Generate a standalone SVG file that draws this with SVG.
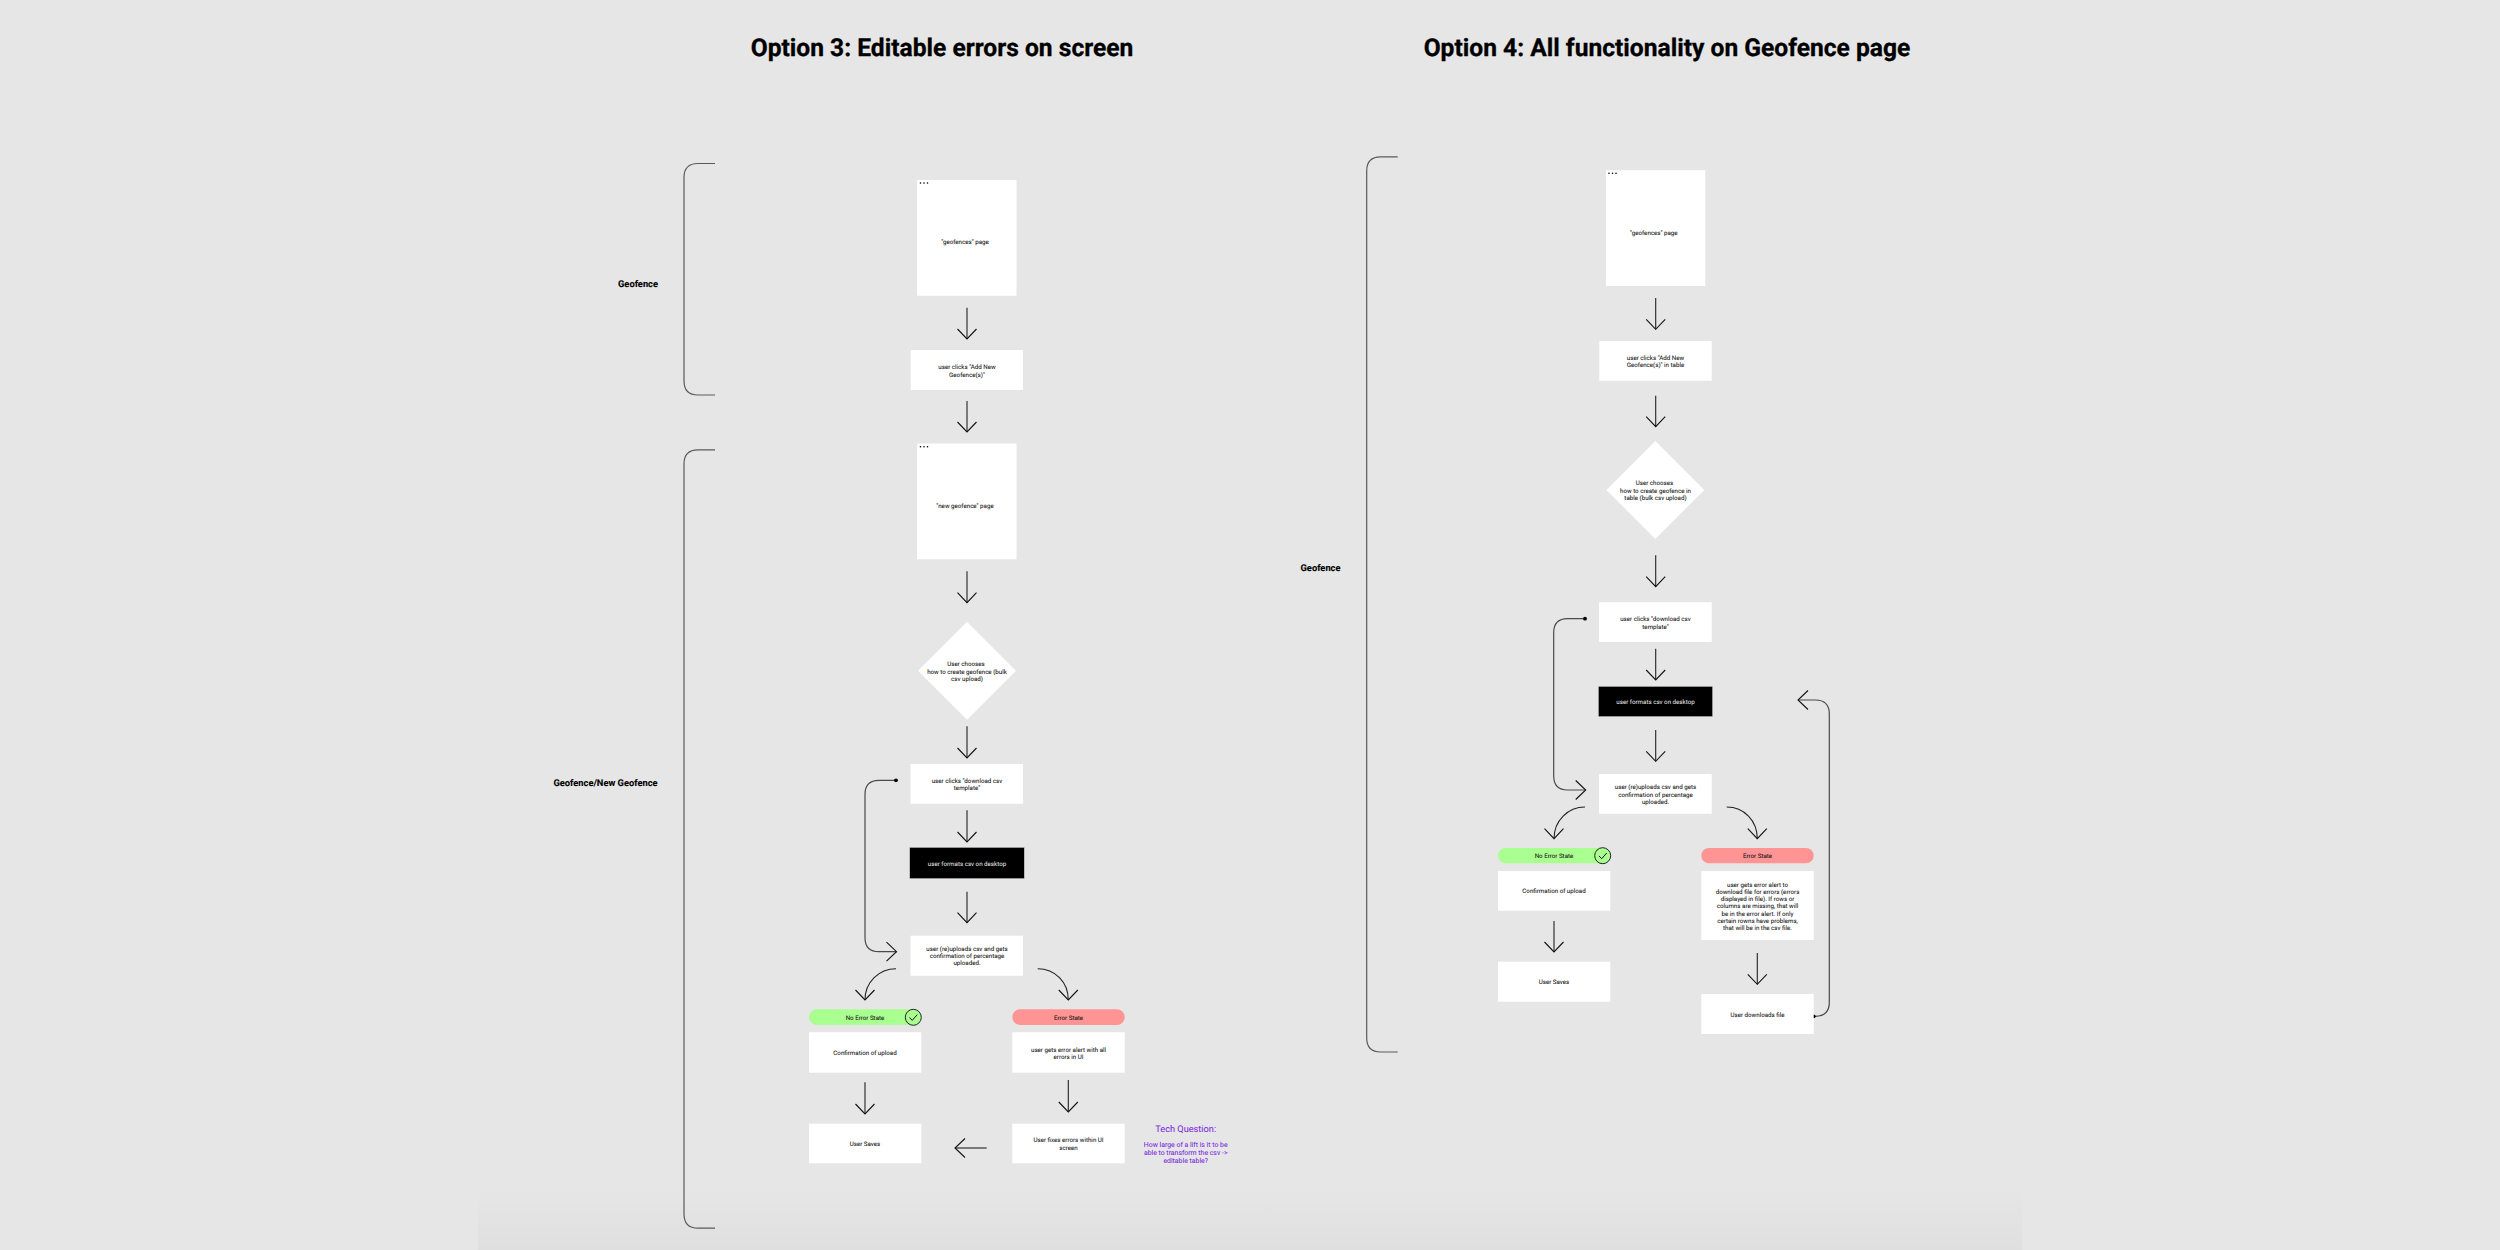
<svg xmlns="http://www.w3.org/2000/svg" width="2500" height="1250" viewBox="0 0 2500 1250">
<style>
text{font-family:Roboto,"Liberation Sans",sans-serif;text-anchor:middle;text-rendering:geometricPrecision}
.title{font-size:24.6px;font-weight:700;fill:#000;stroke:#000;stroke-width:.3}
.sec{font-size:9.3px;font-weight:700;fill:#000;stroke:#000;stroke-width:.1}
.t{font-size:6.2px;fill:#111;stroke:#111;stroke-width:.05}
.w{font-size:6.2px;fill:#eee}
.q{fill:#7a27e0;font-size:6.9px;stroke:#7a27e0;stroke-width:.05}
.qh{fill:#7a27e0;font-size:9.2px;stroke:#7a27e0;stroke-width:.05}
.box{fill:#fff}
.blk{fill:#000;stroke:#ccc;stroke-width:.6}
.ok{fill:#a9ff8f}
.err{fill:#ff9494}
.dot{fill:#000}
.a{fill:none;stroke:#222;stroke-width:1.1;marker-end:url(#head)}
.c{fill:none;stroke:#4a4a4a;stroke-width:1.2}
.b{fill:none;stroke:#5a5a5a;stroke-width:1.2}
</style>
<defs>
<marker id="head" markerUnits="userSpaceOnUse" markerWidth="24" markerHeight="24" refX="12" refY="12" orient="auto" overflow="visible"><path d="M2,2.5 L12,12 L2,21.5" fill="none" stroke="#111" stroke-width="1.1"/></marker>
<marker id="start" markerUnits="userSpaceOnUse" markerWidth="6" markerHeight="6" refX="3" refY="3" overflow="visible"><circle cx="3" cy="3" r="1.9" fill="#000"/></marker>
<linearGradient id="fade" x1="0" y1="0" x2="0" y2="1"><stop offset="0" stop-color="#e6e6e6"/><stop offset="1" stop-color="#dfdfdf"/></linearGradient>
</defs>
<rect width="2500" height="1250" fill="#e6e6e6"/>
<rect x="478" y="1190" width="1544" height="60" fill="url(#fade)"/>

<g id="titles">
<text class="title" x="942" y="56">Option 3: Editable errors on screen</text>
<text class="title" x="1667" y="56">Option 4: All functionality on Geofence page</text>
</g>

<g id="connectors">
<path class="b" d="M715,163.5 H698 Q684,163.5 684,177.5 V381 Q684,395 698,395 H715"/>
<path class="b" d="M715,449.8 H698 Q684,449.8 684,463.8 V1214 Q684,1228.2 698,1228.2 H715"/>
<path class="b" d="M1397.7,156.8 H1380.7 Q1366.7,156.8 1366.7,170.8 V1038 Q1366.7,1052 1380.7,1052 H1397.7"/>

<path class="a" d="M967,307.7 V339"/>
<path class="a" d="M967,401 V432"/>
<path class="a" d="M967,571.3 V602.7"/>
<path class="a" d="M967,726.3 V758"/>
<path class="a" d="M967,810.3 V842"/>
<path class="a" d="M967,891.7 V922.7"/>
<path class="c" style="marker-start:url(#start);marker-end:url(#head)" d="M896,780.3 H879 Q865,780.3 865,794.3 V937.7 Q865,951.7 879,951.7 H896.5"/>
<path class="a" d="M896,968.7 C879,968.7 865,982 865,1000"/>
<path class="a" d="M1037.7,968.7 C1055,968.7 1068.3,982 1068.3,1000"/>
<path class="a" d="M865,1082.3 V1114"/>
<path class="a" d="M1068.3,1080 V1112"/>
<path class="a" d="M986.7,1148 H955"/>

<path class="a" d="M1655.7,298 V329.3"/>
<path class="a" d="M1655.7,395.7 V426.7"/>
<path class="a" d="M1655.7,555.3 V586.7"/>
<path class="a" d="M1655.7,648.7 V680"/>
<path class="a" d="M1655.7,730 V761.3"/>
<path class="c" style="marker-start:url(#start);marker-end:url(#head)" d="M1585,618.7 H1567.7 Q1553.7,618.7 1553.7,632.7 V776 Q1553.7,790 1567.7,790 H1585.7"/>
<path class="a" d="M1585,807 C1568,807 1554,820.5 1554,838.7"/>
<path class="a" d="M1726.7,807 C1744,807 1757.3,820.5 1757.3,838.7"/>
<path class="a" d="M1554,921 V952"/>
<path class="a" d="M1757.3,953 V984.3"/>
<path class="c" style="marker-start:url(#start);marker-end:url(#head)" d="M1813.7,1016.3 H1815.3 Q1829.3,1016.3 1829.3,1002.3 V714 Q1829.3,700 1815.3,700 H1798"/>
</g>

<g id="label-geofence-3"><text class="sec" x="638" y="286.5">Geofence</text></g>
<g id="label-new-geofence-3"><text class="sec" x="605.5" y="786.3">Geofence/New Geofence</text></g>
<g id="label-geofence-4"><text class="sec" x="1320.5" y="571">Geofence</text></g>

<g id="n3-geofences"><rect class="box" x="917" y="180" width="99.5" height="115.7"/><circle class="dot" cx="920.5" cy="183" r=".8"/><circle class="dot" cx="924" cy="183" r=".8"/><circle class="dot" cx="927.5" cy="183" r=".8"/><text class="t" x="965" y="244.3">"geofences" page</text></g>
<g id="n3-add"><rect class="box" x="910.7" y="350" width="112.3" height="40"/><text class="t" x="967" y="369.3">user clicks "Add New</text><text class="t" x="967" y="376.6">Geofence(s)"</text></g>
<g id="n3-new"><rect class="box" x="917" y="443.5" width="99.5" height="115.8"/><circle class="dot" cx="920.5" cy="446.7" r=".8"/><circle class="dot" cx="924" cy="446.7" r=".8"/><circle class="dot" cx="927.5" cy="446.7" r=".8"/><text class="t" x="965" y="508.3">"new geofence" page</text></g>
<g id="n3-choose"><polygon class="box" points="967,621.7 1016,670.7 967,719.7 918,670.7"/><text class="t" x="966" y="666.3">User chooses</text><text class="t" x="967" y="673.6">how to create geofence (bulk</text><text class="t" x="967" y="680.6">csv upload)</text></g>
<g id="n3-download"><rect class="box" x="910.5" y="764" width="112.5" height="39.8"/><text class="t" x="967" y="782.6">user clicks "download csv</text><text class="t" x="967" y="790">template"</text></g>
<g id="n3-format"><rect class="blk" x="909.7" y="847.3" width="114.6" height="31.4"/><text class="w" x="967" y="865.6">user formats csv on desktop</text></g>
<g id="n3-upload"><rect class="box" x="910.5" y="935.7" width="112.5" height="40"/><text class="t" x="967" y="951">user (re)uploads csv and gets</text><text class="t" x="967" y="958">confirmation of percentage</text><text class="t" x="967" y="965.3">uploaded.</text></g>
<g id="n3-noerror"><rect class="ok" x="809" y="1009.3" width="112.3" height="15.7" rx="7.8"/><text class="t" x="865" y="1019.6">No Error State</text><circle cx="913.3" cy="1017.3" r="8" fill="#a9ff8f" stroke="#222" stroke-width="1"/><path d="M909.5,1017.5 L912.3,1020.3 L917.3,1014.6" fill="none" stroke="#111" stroke-width="1"/></g>
<g id="n3-error"><rect class="err" x="1012.3" y="1009.3" width="112.4" height="15.7" rx="7.8"/><text class="t" x="1068.5" y="1019.6">Error State</text></g>
<g id="n3-confirm"><rect class="box" x="809" y="1032.3" width="112.3" height="40.4"/><text class="t" x="865" y="1054.6">Confirmation of upload</text></g>
<g id="n3-alert"><rect class="box" x="1012.3" y="1032.3" width="112.4" height="40.4"/><text class="t" x="1068.5" y="1051.6">user gets error alert with all</text><text class="t" x="1068.5" y="1059">errors in UI</text></g>
<g id="n3-saves"><rect class="box" x="809" y="1123.7" width="112.3" height="39.6"/><text class="t" x="865" y="1145.6">User Saves</text></g>
<g id="n3-fixes"><rect class="box" x="1012.3" y="1123.7" width="112.4" height="39.6"/><text class="t" x="1068.5" y="1142.3">User fixes errors within UI</text><text class="t" x="1068.5" y="1149.6">screen</text></g>
<g id="tech-question"><text class="qh" x="1185.7" y="1132">Tech Question:</text><text class="q" x="1185.7" y="1146.5">How large of a lift is it to be</text><text class="q" x="1185.7" y="1154.7">able to transform the csv -&gt;</text><text class="q" x="1185.7" y="1162.7">editable table?</text></g>

<g id="n4-geofences"><rect class="box" x="1606" y="170.3" width="99.3" height="115.7"/><circle class="dot" cx="1609" cy="173.3" r=".8"/><circle class="dot" cx="1612.5" cy="173.3" r=".8"/><circle class="dot" cx="1616" cy="173.3" r=".8"/><text class="t" x="1653.8" y="235">"geofences" page</text></g>
<g id="n4-add"><rect class="box" x="1599.3" y="341" width="112.4" height="39.7"/><text class="t" x="1655.5" y="359.6">user clicks "Add New</text><text class="t" x="1655.5" y="367">Geofence(s)" in table</text></g>
<g id="n4-choose"><polygon class="box" points="1655.3,441 1704.3,490 1655.3,539 1606.3,490"/><text class="t" x="1654.5" y="485.3">User chooses</text><text class="t" x="1655.5" y="492.6">how to create geofence in</text><text class="t" x="1655.5" y="499.6">table (bulk csv upload)</text></g>
<g id="n4-download"><rect class="box" x="1599" y="602.3" width="112.7" height="39.7"/><text class="t" x="1655.5" y="621">user clicks "download csv</text><text class="t" x="1655.5" y="628.6">template"</text></g>
<g id="n4-format"><rect class="blk" x="1598.3" y="686.3" width="114.4" height="30.4"/><text class="w" x="1655.5" y="704">user formats csv on desktop</text></g>
<g id="n4-upload"><rect class="box" x="1599" y="774" width="112.7" height="39.7"/><text class="t" x="1655.5" y="789.3">user (re)uploads csv and gets</text><text class="t" x="1655.5" y="796.6">confirmation of percentage</text><text class="t" x="1655.5" y="804">uploaded.</text></g>
<g id="n4-noerror"><rect class="ok" x="1498" y="848" width="112.3" height="15.3" rx="7.6"/><text class="t" x="1554" y="858">No Error State</text><circle cx="1602.7" cy="855.7" r="8" fill="#a9ff8f" stroke="#222" stroke-width="1"/><path d="M1598.9,855.9 L1601.7,858.7 L1606.7,853" fill="none" stroke="#111" stroke-width="1"/></g>
<g id="n4-error"><rect class="err" x="1701.3" y="848" width="112.4" height="15.3" rx="7.6"/><text class="t" x="1757.5" y="858">Error State</text></g>
<g id="n4-confirm"><rect class="box" x="1498" y="871" width="112.3" height="39.7"/><text class="t" x="1554" y="893.3">Confirmation of upload</text></g>
<g id="n4-alert"><rect class="box" x="1701.3" y="871" width="112.4" height="69"/><text class="t" x="1757.5" y="886.6">user gets error alert to</text><text class="t" x="1757.5" y="894">download file for errors (errors</text><text class="t" x="1757.5" y="901">displayed in file). If rows or</text><text class="t" x="1757.5" y="908.3">columns are missing, that will</text><text class="t" x="1757.5" y="915.6">be in the error alert. If only</text><text class="t" x="1757.5" y="923">certain rowns have problems,</text><text class="t" x="1757.5" y="930">that will be in the csv file.</text></g>
<g id="n4-saves"><rect class="box" x="1498" y="961.7" width="112.3" height="40"/><text class="t" x="1554" y="984">User Saves</text></g>
<g id="n4-downloads"><rect class="box" x="1701.3" y="994" width="112.4" height="40"/><text class="t" x="1757.5" y="1016.6">User downloads file</text></g>
</svg>
